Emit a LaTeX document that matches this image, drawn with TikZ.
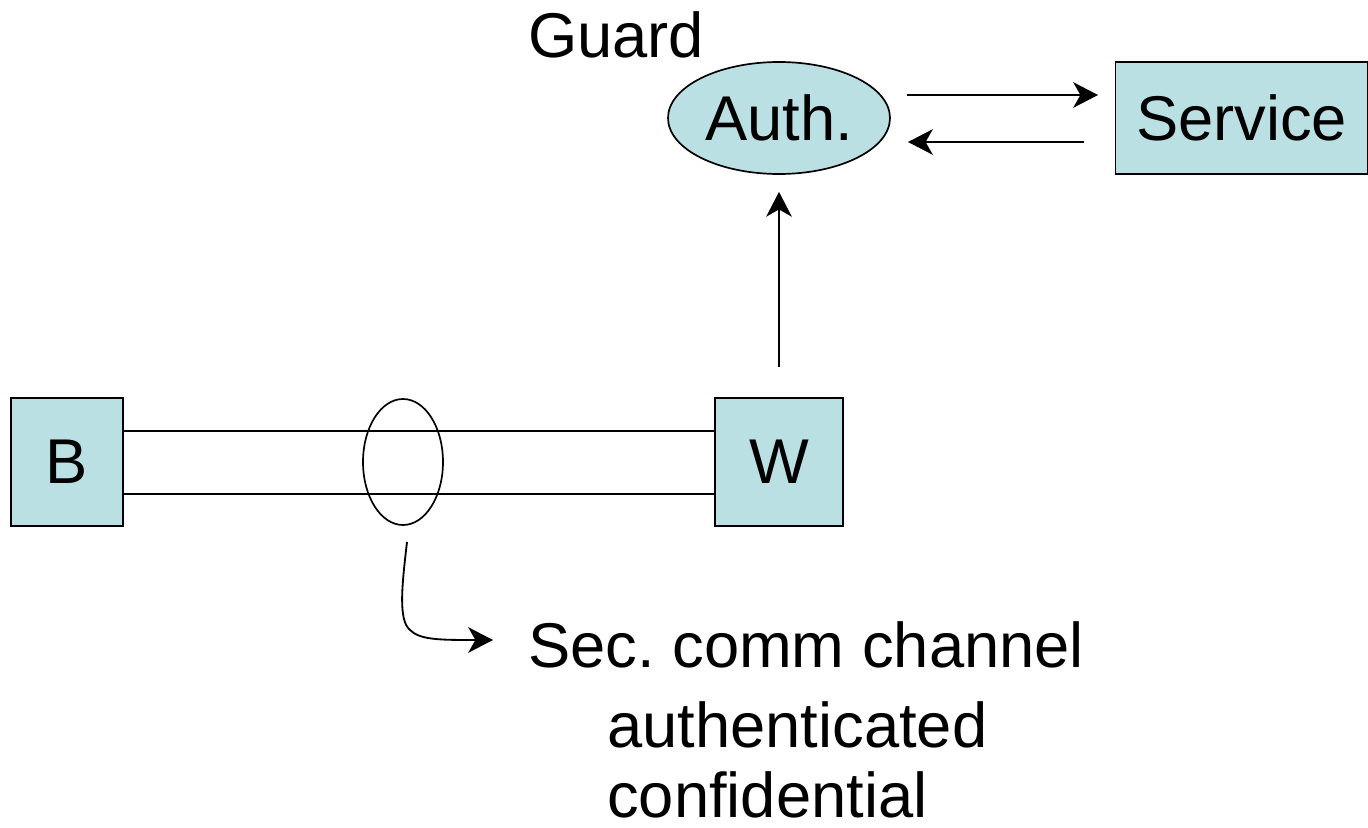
\documentclass[tikz,border=0pt]{standalone}
\usepackage{fontspec}
\setmainfont{Liberation Sans}
\usetikzlibrary{arrows.meta,shapes.geometric}
\definecolor{boxfill}{RGB}{187,224,227}
\tikzset{
  px/.style={x=0.025cm,y=-0.025cm},
  lbl/.style={font=\fontsize{45}{54}\selectfont, inner sep=0pt},
  box/.style={draw=black, line width=1.2pt, fill=boxfill, inner sep=0pt},
  conn/.style={line width=1.3pt, -{Stealth[length=0.62cm,width=0.64cm,inset=0.18cm]}},
}
\begin{document}
\begin{tikzpicture}[px]
\useasboundingbox (0,0) rectangle (1368,828);
% nodes
\node[box, ellipse, minimum width=222*0.025cm, minimum height=112*0.025cm] (auth) at (779,118) {};
\node[lbl] at (auth.center) {Auth.};
\node[lbl, anchor=base west] (guard) at (528,58) {Guard};
\node[box, minimum width=252*0.025cm, minimum height=112*0.025cm] (service) at (1241.5,118) {};
\node[lbl] at (service.center) {Service};
\node[box, minimum width=112*0.025cm, minimum height=128*0.025cm] (b) at (67,462) {};
\node[lbl] at (b.center) {B};
\node[box, minimum width=128*0.025cm, minimum height=128*0.025cm] (w) at (779,462) {};
\node[lbl] at (w.center) {W};
\node[draw, line width=1.2pt, ellipse, minimum width=80*0.025cm, minimum height=126*0.025cm, inner sep=0pt] (chan) at (403,462) {};
\node[lbl, anchor=base west] (sec1) at (528,667) {Sec.\ comm channel};
\node[lbl, anchor=base west] (sec2) at (607,747) {authenticated};
\node[lbl, anchor=base west] (sec3) at (607,817) {confidential};
% channel lines
\draw[line width=1.2pt] (b.east |- 0,431) -- (w.west |- 0,431);
\draw[line width=1.2pt] (b.east |- 0,494) -- (w.west |- 0,494);
% arrows
\coordinate (a1s) at (907,95);
\coordinate (a1e) at (1098,95);
\coordinate (a2s) at (1084,142);
\coordinate (a2e) at (908,142);
\draw[conn] (a1s) -- (a1e);
\draw[conn] (a2s) -- (a2e);
\coordinate (wtop) at (779,367);
\draw[conn] (wtop) -- ([yshift=-17*0.025cm]auth.south);
\coordinate (cs) at (407,542);
\coordinate (ce) at (493,640);
\draw[conn] (cs) .. controls (402,585) and (398,620) .. (410,630) .. controls (420,640) and (440,640) .. (ce);
\end{tikzpicture}
\end{document}
